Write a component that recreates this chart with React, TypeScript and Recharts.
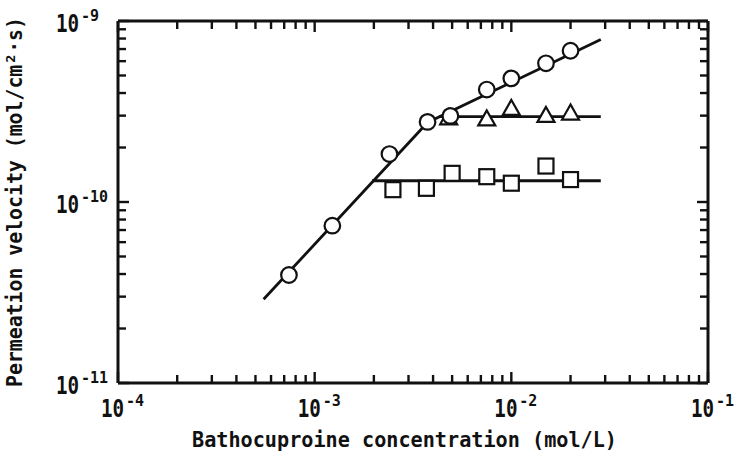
import React from "react";
import { ComposedChart, Label, ReferenceLine, Scatter, XAxis, YAxis } from "recharts";

// measured points (mol/L, mol/cm^2·s)
const circleConc = [7.4e-4, 1.23e-3, 2.4e-3, 3.75e-3, 4.9e-3, 7.5e-3, 1.0e-2, 1.5e-2, 2.0e-2];
const circleVel = [3.95e-11, 7.4e-11, 1.84e-10, 2.77e-10, 2.99e-10, 4.18e-10, 4.82e-10, 5.84e-10, 6.85e-10];

const triangleConc = [4.8e-3, 7.5e-3, 1.0e-2, 1.5e-2, 2.0e-2];
const triangleVel = [2.9e-10, 2.86e-10, 3.27e-10, 2.99e-10, 3.08e-10];

const squareConc = [2.5e-3, 3.7e-3, 5.0e-3, 7.5e-3, 1.0e-2, 1.5e-2, 2.0e-2];
const squareVel = [1.17e-10, 1.19e-10, 1.44e-10, 1.38e-10, 1.27e-10, 1.58e-10, 1.33e-10];

// drawn trend lines
const circleFitConc = [5.5e-4, 3.75e-3, 2.85e-2];
const circleFitVel = [2.9e-11, 2.75e-10, 7.9e-10];
const triangleFitConc = [4.3e-3, 2.85e-2];
const triangleFitVel = [2.96e-10, 2.96e-10];
const squareFitConc = [1.96e-3, 2.85e-2];
const squareFitVel = [1.31e-10, 1.31e-10];

// axes
const xDomain: [number, number] = [1e-4, 1e-1];
const yDomain: [number, number] = [1e-11, 1e-9];
const xMajor = [1e-4, 1e-3, 1e-2, 1e-1];
const yMajor = [1e-11, 1e-10, 1e-9];
const minorSteps = [2, 3, 4, 5, 6, 7, 8, 9];
const xTicks = [...xMajor, ...[1e-4, 1e-3, 1e-2].flatMap((d) => minorSteps.map((m) => m * d))];
const yTicks = [...yMajor, ...[1e-11, 1e-10].flatMap((d) => minorSteps.map((m) => m * d))];

const xTitle = "Bathocuproine concentration (mol/L)";
const yTitle = "Permeation velocity (mol/cm\u00b2\u00b7s)";

const INK = "#111";
const FONT = '"DejaVu Sans Mono", "Liberation Mono", monospace';

// layout
const W = 735;
const H = 459;
const MARGIN = { top: 21, right: 27, bottom: 0, left: 0 };
const X_AXIS_H = 76;
const Y_AXIS_W = 118;
const PLOT_LEFT = MARGIN.left + Y_AXIS_W;
const PLOT_RIGHT = W - MARGIN.right;
const PLOT_TOP = MARGIN.top;
const PLOT_BOTTOM = H - MARGIN.bottom - X_AXIS_H;
const MAJOR_LEN = 11;
const MINOR_LEN = 8;

const toRows = (xs: number[], ys: number[]) => xs.map((x, i) => ({ x, y: ys[i] }));

const circles = toRows(circleConc, circleVel);
const triangles = toRows(triangleConc, triangleVel);
const squares = toRows(squareConc, squareVel);
const circleFit = toRows(circleFitConc, circleFitVel);
const triangleFit = toRows(triangleFitConc, triangleFitVel);
const squareFit = toRows(squareFitConc, squareFitVel);

const isDecade = (v: number) => Math.abs(Math.log10(v) - Math.round(Math.log10(v))) < 1e-6;

function PowerText({ x, baseline, value }: { x: number; baseline: number; value: number }) {
  const exp = Math.round(Math.log10(value));
  return (
    <g>
      <text
        transform={`translate(${x},${baseline}) scale(0.8,1)`}
        fontSize={24}
        fontWeight="bold"
        fontFamily={FONT}
        fill={INK}
      >
        10
      </text>
      <text x={x + 25} y={baseline - 10.5} fontSize={15} fontWeight="bold" fontFamily={FONT} fill={INK}>
        {String(exp)}
      </text>
    </g>
  );
}

// x tick: inward marks on bottom and top edge, label only at decades
function XTick(props: any) {
  const { x, payload } = props;
  const major = isDecade(payload.value);
  const len = major ? MAJOR_LEN : MINOR_LEN;
  return (
    <g>
      <line x1={x} y1={PLOT_BOTTOM} x2={x} y2={PLOT_BOTTOM - len} stroke={INK} strokeWidth={2.4} />
      <line x1={x} y1={PLOT_TOP} x2={x} y2={PLOT_TOP + len} stroke={INK} strokeWidth={2.4} />
      {major && <PowerText x={x - 17} baseline={PLOT_BOTTOM + 33.7} value={payload.value} />}
    </g>
  );
}

// y tick: inward marks on left and right edge, label only at decades
function YTick(props: any) {
  const { y, payload } = props;
  const major = isDecade(payload.value);
  const len = major ? MAJOR_LEN : MINOR_LEN;
  return (
    <g>
      <line x1={PLOT_LEFT} y1={y} x2={PLOT_LEFT + len} y2={y} stroke={INK} strokeWidth={2.4} />
      <line x1={PLOT_RIGHT} y1={y} x2={PLOT_RIGHT - len} y2={y} stroke={INK} strokeWidth={2.4} />
      {major && <PowerText x={PLOT_LEFT - 62} baseline={y + 10.7} value={payload.value} />}
    </g>
  );
}

function XTitle(props: any) {
  const vb = props.viewBox ?? { x: PLOT_LEFT, y: PLOT_BOTTOM, width: PLOT_RIGHT - PLOT_LEFT, height: X_AXIS_H };
  return (
    <text
      x={vb.x + vb.width / 2 - 8.5}
      y={vb.y + 64}
      textAnchor="middle"
      fontSize={22}
      fontWeight="bold"
      fontFamily={FONT}
      fill={INK}
      textLength={425}
      lengthAdjust="spacingAndGlyphs"
    >
      {xTitle}
    </text>
  );
}

function YTitle(props: any) {
  const vb = props.viewBox ?? { x: 0, y: PLOT_TOP, width: Y_AXIS_W, height: PLOT_BOTTOM - PLOT_TOP };
  const cx = 22;
  const cy = vb.y + vb.height / 2;
  return (
    <text
      x={cx}
      y={cy}
      transform={`rotate(-90, ${cx}, ${cy})`}
      textAnchor="middle"
      fontSize={22}
      fontWeight="bold"
      fontFamily={FONT}
      fill={INK}
      textLength={370}
      lengthAdjust="spacingAndGlyphs"
    >
      {yTitle}
    </text>
  );
}

const CircleMark = (p: any) => (
  <circle cx={p.cx} cy={p.cy} r={7.8} fill="#fff" stroke={INK} strokeWidth={2.2} />
);

const SquareMark = (p: any) => (
  <rect x={p.cx - 7.5} y={p.cy - 7.5} width={15} height={15} fill="#fff" stroke={INK} strokeWidth={2.2} />
);

const TriangleMark = (p: any) => (
  <polygon
    points={`${p.cx},${p.cy - 9} ${p.cx - 8.5},${p.cy + 6} ${p.cx + 8.5},${p.cy + 6}`}
    fill="#fff"
    stroke={INK}
    strokeWidth={2.2}
    strokeLinejoin="miter"
  />
);

const NoMark = () => <g />;

const fitLine = { stroke: INK, strokeWidth: 2.8 };

export default function App() {
  const ref = { xAxisId: "main", yAxisId: "main" };
  return (
    <div style={{ position: "absolute", left: 0, top: 0, width: W, height: H, background: "#fff" }}>
      <ComposedChart width={W} height={H} margin={MARGIN}>
        <XAxis
          xAxisId="main"
          dataKey="x"
          type="number"
          scale="log"
          domain={xDomain}
          allowDataOverflow
          ticks={xTicks}
          interval={0}
          height={X_AXIS_H}
          tickSize={0}
          tickMargin={0}
          tickLine={false}
          axisLine={false}
          tick={<XTick />}
        >
          <Label content={<XTitle />} />
        </XAxis>
        <YAxis
          yAxisId="main"
          dataKey="y"
          type="number"
          scale="log"
          domain={yDomain}
          allowDataOverflow
          ticks={yTicks}
          interval={0}
          width={Y_AXIS_W}
          tickSize={0}
          tickMargin={8}
          tickLine={false}
          axisLine={false}
          tick={<YTick />}
        >
          <Label content={<YTitle />} />
        </YAxis>

        {/* box frame */}
        <ReferenceLine {...ref} x={xDomain[0]} stroke={INK} strokeWidth={3} />
        <ReferenceLine {...ref} x={xDomain[1]} stroke={INK} strokeWidth={3} />
        <ReferenceLine {...ref} y={yDomain[0]} stroke={INK} strokeWidth={3} />
        <ReferenceLine {...ref} y={yDomain[1]} stroke={INK} strokeWidth={3} />

        <Scatter {...ref} data={circleFit} line={fitLine} shape={NoMark} isAnimationActive={false} />
        <Scatter {...ref} data={triangleFit} line={fitLine} shape={NoMark} isAnimationActive={false} />
        <Scatter {...ref} data={squareFit} line={fitLine} shape={NoMark} isAnimationActive={false} />

        <Scatter {...ref} data={squares} shape={SquareMark} isAnimationActive={false} />
        <Scatter {...ref} data={triangles} shape={TriangleMark} isAnimationActive={false} />
        <Scatter {...ref} data={circles} shape={CircleMark} isAnimationActive={false} />
      </ComposedChart>
    </div>
  );
}
